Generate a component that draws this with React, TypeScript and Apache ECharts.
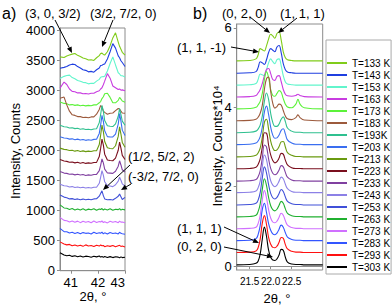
import React, { useEffect, useRef } from "react";
import * as echarts from "echarts";

const FONT = "'Liberation Sans', Arial, sans-serif";

const TEMPS = [133, 143, 153, 163, 173, 183, 193, 203, 213, 223, 233, 243, 253, 263, 273, 283, 293, 303];
const LEGEND_LABELS = [
  "T=133 K", "T=143 K", "T=153 K", "T=163 K", "T=173 K", "T=183 K", "T=193K", "T=203 K", "T=213 K",
  "T=223 K", "T=233 K", "T=243 K", "T=253 K", "T=263 K", "T=273 K", "T=283 K", "T=293 K", "T=303 K",
];
const COLORS = [
  "#80cc1a", "#1f3fe0", "#62f5cc", "#c83ce0", "#5cf23a", "#9c5a3c", "#2fc08f", "#3a6ef0", "#6a9a10",
  "#7a0f1e", "#8040a0", "#8c80e6", "#4050d8", "#20b030", "#d070ff", "#3355ff", "#ff1010", "#000000",
];

// Panel a) 2theta grid (deg)
const XA = [40.6, 40.75, 40.85, 40.95, 41.05, 41.15, 41.25, 41.35, 41.45, 41.55, 41.65, 41.75, 41.85, 41.95,
  42.05, 42.1, 42.15, 42.2, 42.25, 42.35, 42.45, 42.55, 42.65, 42.75, 42.8, 42.85, 42.9, 43.0];

const A133 = [3560, 3550, 3575, 3590, 3605, 3615, 3585, 3565, 3540, 3528, 3508, 3512, 3500, 3545, 3580, 3615, 3622, 3600, 3590, 3645, 3745, 3875, 3960, 3805, 3735, 3685, 3635, 3590];
const A143 = [3370, 3385, 3398, 3425, 3438, 3432, 3398, 3375, 3345, 3335, 3310, 3318, 3305, 3345, 3375, 3415, 3420, 3435, 3440, 3525, 3645, 3780, 3705, 3575, 3545, 3495, 3465, 3400];
const A153 = [3200, 3235, 3250, 3255, 3215, 3195, 3165, 3155, 3135, 3130, 3110, 3120, 3118, 3155, 3185, 3220, 3228, 3230, 3238, 3325, 3448, 3560, 3425, 3295, 3275, 3245, 3245, 3225];
const A163 = [3040, 3140, 3100, 3025, 2985, 2980, 2960, 2960, 2945, 2950, 2940, 2955, 2955, 2980, 2995, 3025, 3045, 3095, 3155, 3280, 3205, 3075, 3045, 3015, 3025, 3005, 3010, 2995];
const A173 = [2810, 2785, 2780, 2760, 2765, 2752, 2760, 2746, 2755, 2744, 2752, 2745, 2760, 2760, 2795, 2815, 2865, 2895, 2945, 2955, 2885, 2795, 2795, 2835, 2885, 2855, 2825, 2805];
const A183 = [2870, 2890, 2760, 2655, 2595, 2585, 2565, 2565, 2550, 2555, 2545, 2560, 2560, 2605, 2685, 2750, 2725, 2655, 2635, 2605, 2620, 2625, 2665, 2700, 2690, 2655, 2625, 2620];
const A193 = [2420, 2395, 2392, 2375, 2380, 2365, 2370, 2355, 2364, 2350, 2355, 2345, 2360, 2362, 2465, 2600, 2750, 2655, 2500, 2412, 2405, 2400, 2445, 2570, 2700, 2600, 2490, 2420];
const A203 = [2230, 2210, 2205, 2190, 2195, 2180, 2190, 2175, 2184, 2170, 2180, 2172, 2186, 2188, 2285, 2425, 2585, 2490, 2330, 2232, 2225, 2226, 2275, 2440, 2615, 2490, 2340, 2250];
const A213 = [2040, 2020, 2015, 2000, 2005, 1990, 2000, 1985, 1995, 1982, 1990, 1983, 1996, 1998, 2100, 2255, 2425, 2320, 2150, 2046, 2035, 2030, 2080, 2235, 2395, 2275, 2135, 2055];
const A223 = [1850, 1825, 1820, 1805, 1810, 1795, 1806, 1790, 1800, 1786, 1795, 1788, 1802, 1803, 1900, 2035, 2190, 2095, 1940, 1842, 1835, 1830, 1875, 2005, 2140, 2040, 1920, 1850];
const A233 = [1650, 1625, 1620, 1605, 1610, 1595, 1605, 1592, 1600, 1586, 1595, 1588, 1602, 1603, 1665, 1755, 1860, 1795, 1690, 1626, 1625, 1620, 1655, 1740, 1830, 1760, 1680, 1640];
const A243 = [1440, 1415, 1410, 1392, 1400, 1385, 1394, 1380, 1388, 1376, 1385, 1377, 1390, 1390, 1455, 1555, 1665, 1590, 1480, 1416, 1410, 1400, 1430, 1490, 1555, 1505, 1445, 1410];
const A253 = [1260, 1225, 1215, 1195, 1200, 1186, 1195, 1182, 1192, 1180, 1190, 1180, 1195, 1198, 1240, 1285, 1330, 1250, 1195, 1180, 1186, 1178, 1205, 1240, 1275, 1230, 1185, 1220];
const A263 = [1095, 1045, 1040, 1020, 1035, 1012, 1028, 1010, 1030, 1008, 1025, 1015, 1032, 1005, 1028, 1018, 1035, 1010, 1026, 1012, 1030, 1006, 1024, 1016, 1034, 1008, 1022, 1012];
const A273 = [885, 838, 832, 812, 828, 808, 825, 800, 822, 806, 818, 798, 826, 804, 820, 810, 828, 802, 816, 796, 822, 805, 818, 800, 824, 808, 812, 798];
const A283 = [705, 650, 648, 626, 640, 620, 636, 615, 634, 622, 628, 612, 640, 618, 632, 624, 642, 614, 630, 610, 636, 620, 628, 612, 640, 622, 616, 606];
const A293 = [480, 445, 430, 438, 415, 428, 410, 425, 405, 430, 412, 420, 402, 425, 410, 428, 414, 420, 400, 416, 405, 420, 398, 414, 422, 404, 410, 396];
const A303 = [300, 262, 248, 256, 238, 250, 232, 245, 228, 242, 236, 224, 240, 230, 244, 226, 238, 222, 236, 220, 234, 218, 232, 226, 214, 230, 218, 224];
const A_SERIES = [A133, A143, A153, A163, A173, A183, A193, A203, A213, A223, A233, A243, A253, A263, A273, A283, A293, A303];

// Panel b) 2theta grid (deg)
const XB = [21.19, 21.5, 21.65, 21.7, 21.75, 21.8, 21.85, 21.9, 21.95, 22.0, 22.05, 22.1, 22.15, 22.2, 22.25, 22.3, 22.35, 22.4, 22.5, 22.6, 22.65, 22.7, 22.8, 23.24];

const B133 = [5.17, 5.18, 5.22, 5.32, 5.48, 5.45, 5.42, 5.55, 5.72, 5.84, 5.8, 5.74, 5.86, 5.9, 5.7, 5.4, 5.25, 5.2, 5.18, 5.17, 5.17, 5.17, 5.17, 5.17];
const B143 = [4.86, 4.87, 4.9, 5.0, 5.15, 5.12, 5.08, 5.2, 5.38, 5.48, 5.44, 5.4, 5.52, 5.56, 5.38, 5.1, 4.95, 4.89, 4.87, 4.86, 4.86, 4.86, 4.86, 4.86];
const B153 = [4.56, 4.57, 4.6, 4.7, 4.84, 4.82, 4.8, 4.95, 5.12, 5.22, 5.15, 5.1, 5.2, 5.22, 5.05, 4.8, 4.64, 4.59, 4.57, 4.56, 4.56, 4.56, 4.56, 4.56];
const B163 = [4.26, 4.27, 4.3, 4.36, 4.45, 4.6, 4.8, 4.95, 4.98, 4.85, 4.7, 4.68, 4.78, 4.8, 4.65, 4.45, 4.33, 4.29, 4.28, 4.3, 4.33, 4.3, 4.27, 4.26];
const B173 = [3.96, 3.97, 4.0, 4.06, 4.15, 4.35, 4.7, 4.9, 4.75, 4.45, 4.3, 4.28, 4.35, 4.42, 4.38, 4.22, 4.08, 4.01, 3.99, 4.08, 4.2, 4.08, 3.99, 3.96];
const B183 = [3.66, 3.67, 3.7, 3.75, 3.85, 4.05, 4.45, 4.72, 4.76, 4.4, 4.1, 3.98, 4.02, 4.08, 4.06, 3.92, 3.78, 3.71, 3.69, 3.74, 3.81, 3.74, 3.68, 3.66];
const B193 = [3.36, 3.37, 3.4, 3.45, 3.55, 3.78, 4.15, 4.36, 4.2, 3.85, 3.62, 3.52, 3.52, 3.58, 3.7, 3.76, 3.64, 3.48, 3.4, 3.37, 3.37, 3.37, 3.36, 3.36];
const B203 = [3.06, 3.07, 3.1, 3.15, 3.26, 3.5, 3.88, 4.03, 3.82, 3.5, 3.3, 3.22, 3.23, 3.3, 3.42, 3.46, 3.33, 3.18, 3.1, 3.07, 3.07, 3.07, 3.06, 3.06];
const B213 = [2.75, 2.76, 2.79, 2.85, 2.97, 3.25, 3.62, 3.7, 3.45, 3.15, 2.98, 2.91, 2.93, 3.01, 3.13, 3.14, 3.0, 2.86, 2.79, 2.76, 2.76, 2.76, 2.75, 2.75];
const B223 = [2.45, 2.46, 2.49, 2.56, 2.7, 3.0, 3.36, 3.35, 3.05, 2.8, 2.66, 2.6, 2.63, 2.72, 2.84, 2.82, 2.67, 2.55, 2.48, 2.46, 2.46, 2.46, 2.45, 2.45];
const B233 = [2.14, 2.15, 2.18, 2.25, 2.4, 2.72, 3.05, 3.0, 2.7, 2.46, 2.34, 2.3, 2.33, 2.42, 2.53, 2.5, 2.36, 2.24, 2.17, 2.15, 2.15, 2.15, 2.14, 2.14];
const B243 = [1.85, 1.86, 1.89, 1.97, 2.14, 2.5, 2.8, 2.68, 2.38, 2.15, 2.04, 2.0, 2.04, 2.14, 2.24, 2.2, 2.06, 1.95, 1.88, 1.86, 1.86, 1.86, 1.85, 1.85];
const B253 = [1.54, 1.55, 1.58, 1.66, 1.85, 2.22, 2.5, 2.35, 2.05, 1.83, 1.72, 1.69, 1.73, 1.83, 1.93, 1.88, 1.74, 1.63, 1.57, 1.55, 1.55, 1.55, 1.54, 1.54];
const B263 = [1.24, 1.25, 1.28, 1.37, 1.56, 1.93, 2.2, 2.03, 1.73, 1.52, 1.42, 1.39, 1.43, 1.53, 1.63, 1.58, 1.44, 1.33, 1.27, 1.25, 1.25, 1.25, 1.24, 1.24];
const B273 = [0.94, 0.95, 0.98, 1.07, 1.28, 1.66, 1.9, 1.72, 1.42, 1.21, 1.11, 1.09, 1.13, 1.23, 1.33, 1.28, 1.14, 1.03, 0.97, 0.95, 0.95, 0.95, 0.94, 0.94];
const B283 = [0.64, 0.65, 0.69, 0.79, 1.02, 1.42, 1.58, 1.35, 1.07, 0.9, 0.81, 0.79, 0.83, 0.93, 1.03, 0.98, 0.84, 0.73, 0.67, 0.65, 0.65, 0.65, 0.64, 0.64];
const B293 = [0.34, 0.35, 0.38, 0.46, 0.68, 1.08, 1.27, 1.05, 0.72, 0.55, 0.47, 0.46, 0.5, 0.6, 0.72, 0.7, 0.54, 0.43, 0.37, 0.35, 0.35, 0.35, 0.34, 0.34];
const B303 = [0.03, 0.04, 0.07, 0.12, 0.3, 0.68, 0.98, 0.75, 0.4, 0.22, 0.15, 0.14, 0.18, 0.28, 0.42, 0.4, 0.22, 0.1, 0.05, 0.04, 0.04, 0.04, 0.03, 0.03];
const B_SERIES = [B133, B143, B153, B163, B173, B183, B193, B203, B213, B223, B233, B243, B253, B263, B273, B283, B293, B303];

const A_XTICKS = [41, 42, 43];
const B_XTICKS = [21.5, 22.0, 22.5];
const B_YTICKS = [0, 2, 4, 6];

const FRAME = "#8c8c8c";

function arrow(x1: number, y1: number, x2: number, y2: number) {
  const dx = x2 - x1, dy = y2 - y1;
  const len = Math.hypot(dx, dy);
  const ux = dx / len, uy = dy / len;
  const hl = 6, hw = 2.6;
  const bx = x2 - ux * hl, by = y2 - uy * hl;
  return [
    { type: "line", z: 100, shape: { x1, y1, x2: bx, y2: by }, style: { stroke: "#000", lineWidth: 1 } },
    {
      type: "polygon", z: 100,
      shape: { points: [[x2, y2], [bx - uy * hw, by + ux * hw], [bx + uy * hw, by - ux * hw]] },
      style: { fill: "#000" },
    },
  ];
}

function label(text: string, x: number, y: number, size = 13, rotation = 0, align = "left") {
  return {
    type: "text", z: 100, x, y, rotation,
    style: {
      text, fontSize: size, fontFamily: FONT, fill: "#000",
      align, verticalAlign: "middle", textAlign: align, textVerticalAlign: "middle",
    },
  };
}

export default function App() {
  const ref = useRef<HTMLDivElement>(null);
  useEffect(() => {
    if (!ref.current) return;
    const chart = echarts.init(ref.current, undefined, { renderer: "svg" });
    const seriesA = TEMPS.map((t, i) => ({
      type: "line", name: LEGEND_LABELS[i], xAxisIndex: 0, yAxisIndex: 0,
      data: XA.map((x, j) => [x, A_SERIES[i][j]]),
      symbol: "none", smooth: false,
      lineStyle: { color: COLORS[i], width: 1.1 }, itemStyle: { color: COLORS[i] },
      z: 2 + i,
    }));
    const seriesB = TEMPS.map((t, i) => ({
      type: "line", name: LEGEND_LABELS[i], xAxisIndex: 1, yAxisIndex: 1,
      data: XB.map((x, j) => [x, B_SERIES[i][j]]),
      symbol: "none", smooth: 0.4,
      lineStyle: { color: COLORS[i], width: 1.1 }, itemStyle: { color: COLORS[i] },
      z: 2 + i,
    }));
    const axisText = { color: "#000", fontFamily: FONT };
    chart.setOption({
      animation: false,
      backgroundColor: "#fff",
      textStyle: { fontFamily: FONT },
      grid: [
        { left: 60, top: 28, width: 65, height: 242.7, show: true, borderColor: FRAME, borderWidth: 1 },
        { left: 236.7, top: 24, width: 86, height: 246, show: true, borderColor: FRAME, borderWidth: 1 },
      ],
      xAxis: [
        {
          type: "value", gridIndex: 0, min: 40.6, max: 43,
          axisLine: { lineStyle: { color: FRAME } },
          axisTick: { customValues: A_XTICKS, length: 3, lineStyle: { color: FRAME } },
          axisLabel: {
            customValues: A_XTICKS, ...axisText, fontSize: 13, margin: 5, alignMaxLabel: "right",
            hideOverlap: false, showMinLabel: true, showMaxLabel: true,
          },
          splitLine: { show: false },
        },
        {
          type: "value", gridIndex: 1, min: 21.19, max: 23.24,
          axisLine: { lineStyle: { color: FRAME } },
          axisTick: { customValues: B_XTICKS, length: 3, lineStyle: { color: FRAME } },
          axisLabel: {
            customValues: B_XTICKS, ...axisText, fontSize: 10, margin: 6, hideOverlap: false,
            showMinLabel: true, showMaxLabel: true,
            formatter: (v: number) => v.toFixed(1),
          },
          splitLine: { show: false },
        },
      ],
      yAxis: [
        {
          type: "value", gridIndex: 0, min: 0, max: 4040, interval: 500,
          axisLine: { show: true, lineStyle: { color: FRAME } },
          axisTick: { show: true, length: 3, lineStyle: { color: FRAME } },
          axisLabel: { ...axisText, fontSize: 13, margin: 5, formatter: (v: number) => String(v) },
          splitLine: { show: false },
        },
        {
          type: "value", gridIndex: 1, min: -0.1, max: 6.1,
          axisLine: { show: true, lineStyle: { color: FRAME } },
          axisTick: { show: true, customValues: B_YTICKS, length: 3, lineStyle: { color: FRAME } },
          axisLabel: {
            customValues: B_YTICKS, ...axisText, fontSize: 13, margin: 5,
            showMinLabel: true, showMaxLabel: true, formatter: (v: number) => String(v),
          },
          splitLine: { show: false },
        },
      ],
      legend: {
        data: LEGEND_LABELS, orient: "vertical", left: 326, top: 40,
        icon: "rect", itemWidth: 20, itemHeight: 2, itemGap: 0,
        padding: [17, 1, 1, 1], borderColor: "#aaa", borderWidth: 1, backgroundColor: "#fff",
        selectedMode: false,
        textStyle: { fontSize: 10, lineHeight: 12, height: 12, color: "#000", fontFamily: FONT },
      },
      series: [...seriesA, ...seriesB],
      graphic: [
        label("a)", 2, 13, 16),
        label("(3, 0, 3/2)", 25, 13),
        label("(3/2, 7/2, 0)", 90, 13),
        label("(1/2, 5/2, 2)", 128, 156),
        label("(-3/2, 7/2, 0)", 128, 176),
        label("b)", 193, 13, 16),
        label("(0, 2, 0)", 222, 13),
        label("(1, 1, 1)", 280, 13),
        label("(1, 1, -1)", 177, 47),
        label("(1, 1, 1)", 177, 228),
        label("(0, 2, 0)", 177, 246),
        label("Intensity, Counts", 15, 151, 13, Math.PI / 2, "center"),
        label("Intensity, Counts*10\u2074", 217, 146, 13, Math.PI / 2, "center"),
        label("2\u03b8, \u00b0", 93, 296, 13, 0, "center"),
        label("2\u03b8, \u00b0", 277, 298, 13, 0, "center"),
        ...arrow(55, 20, 72, 53),
        ...arrow(113, 20, 102, 47),
        ...arrow(130, 165, 103, 190),
        ...arrow(131, 184, 121, 190),
        ...arrow(231, 47, 259, 52),
        ...arrow(250, 17, 270, 33),
        ...arrow(297, 18, 278, 33),
        ...arrow(224, 227, 259, 243),
        ...arrow(224, 247, 273, 257),
      ],
    });
    return () => chart.dispose();
  }, []);
  return <div ref={ref} style={{ position: "fixed", left: 0, top: 0, width: 392, height: 307 }} />;
}
